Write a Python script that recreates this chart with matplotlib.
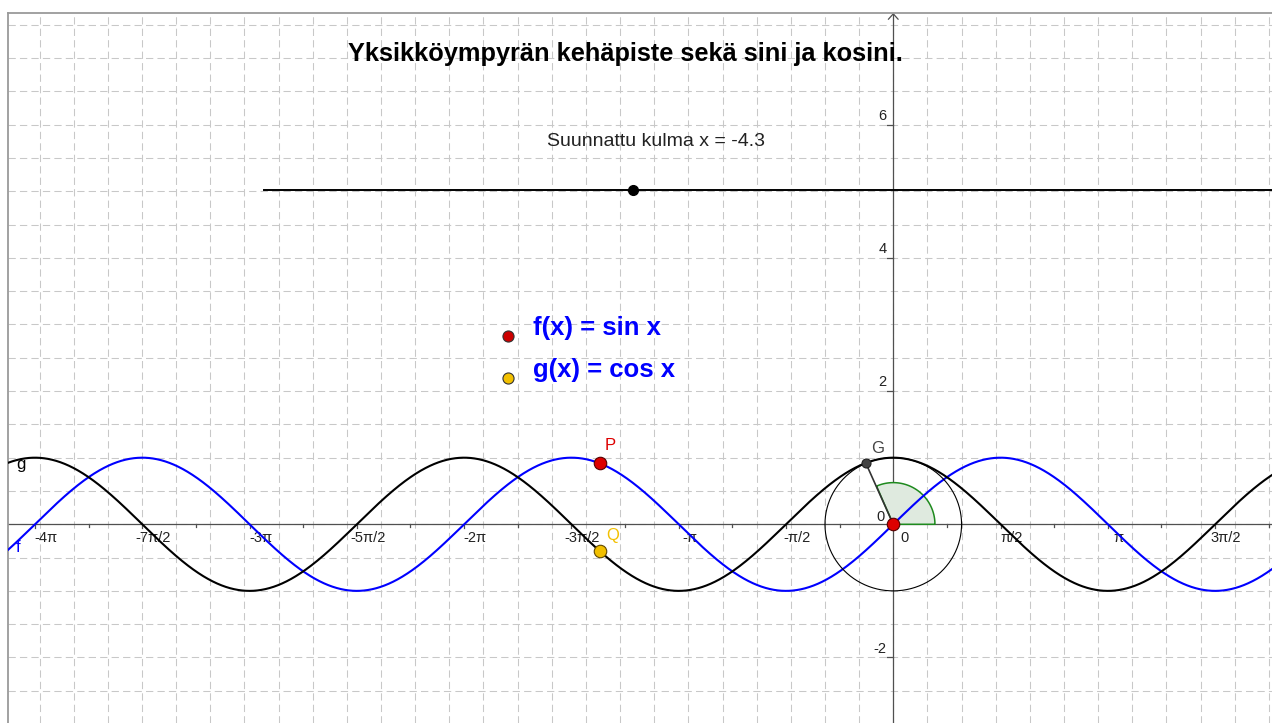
import numpy as np
import matplotlib
matplotlib.use('Agg')
import matplotlib.pyplot as plt

plt.rcParams['font.family'] = ['Liberation Sans', 'DejaVu Sans']

# ---- data ------------------------------------------------------------
title = "Yksikköympyrän kehäpiste sekä sini ja kosini."
angle = -4.3                     # suunnattu kulma x
angle_text = "Suunnattu kulma x = -4.3"
x_tick_k = [-8, -7, -6, -5, -4, -3, -2, -1, 0, 1, 2, 3]   # multiples of pi/2
x_tick_labels = ['-4π', '-7π/2', '-3π', '-5π/2', '-2π', '-3π/2', '-π', '-π/2',
                 '0', 'π/2', 'π', '3π/2']
y_tick_vals = [6, 4, 2, -2]
y_tick_labels = ['6', '4', '2', '-2']
legend_texts = ['f(x) = sin x', 'g(x) = cos x']
legend_colors = ['#cc0000', '#f2c000']
slider_start, slider_pos, slider_y = -9.21, -3.81, 5.02

xmin, xmax = -12.957, 5.545
ymin, ymax = -2.984, 7.685
#-----------------------------------------------------------------------

fig = plt.figure(figsize=(12.72, 7.23), dpi=100)
ax = fig.add_axes([8.3/1272, 0, 1-8.3/1272, 1-12.5/723])
ax.set_xlim(xmin, xmax)
ax.set_ylim(ymin, ymax)
ax.set_xticks([])
ax.set_yticks([])
for s in ['right', 'bottom']:
    ax.spines[s].set_visible(False)
for s in ['left', 'top']:
    ax.spines[s].set_color('#9a9a9a')
    ax.spines[s].set_linewidth(1.3)

# grid every 0.5
gx = np.arange(np.ceil(xmin*2)/2, xmax, 0.5)
gy = np.arange(np.ceil(ymin*2)/2, ymax, 0.5)
for v in gx:
    ax.axvline(v, color='#c8c8c8', lw=0.75, dashes=(7, 4), zorder=0)
for v in gy:
    ax.axhline(v, color='#c8c8c8', lw=0.75, dashes=(7, 4), zorder=0)

# axes
ax.axhline(0, color='#505050', lw=0.9, zorder=1)
ax.plot([0, 0], [ymin, ymax - 0.02], color='#505050', lw=0.9, zorder=1)
ax.plot([-0.07, 0, 0.07], [ymax - 0.1, ymax - 0.02, ymax - 0.1], color='#505050', lw=0.9, zorder=1)

# x ticks
for k in range(-8, 4):
    ax.plot([k*np.pi/2]*2, [0, -0.06], color='#505050', lw=0.9, zorder=1)
for k in range(-17, 8, 2):
    ax.plot([k*np.pi/4]*2, [0, -0.045], color='#505050', lw=0.9, zorder=1)
for k, lab in zip(x_tick_k, x_tick_labels):
    ax.text(k*np.pi/2 + 0.16, -0.21, lab, fontsize=10.5, color='#222222',
            ha='center', va='center', zorder=2)
# y ticks
for v, lab in zip(y_tick_vals, y_tick_labels):
    ax.plot([-0.09, 0], [v, v], color='#505050', lw=0.9, zorder=1)
    ax.text(-0.1, v + 0.13, lab, fontsize=10.5, color='#222222',
            ha='right', va='center', zorder=2)
ax.text(-0.18, 0.11, '0', fontsize=10.5, color='#222222', ha='center', va='center', zorder=2)

# curves
xs = np.linspace(xmin, xmax, 3000)
ax.plot(xs, np.sin(xs), color='#0000ff', lw=1.5, zorder=3)
ax.plot(xs, np.cos(xs), color='black', lw=1.5, zorder=3)
ax.text(xmin + 0.15, -0.35, 'f', color='#0000ff', fontsize=12, ha='center', va='center')
ax.text(xmin + 0.18, 0.9, 'g', color='black', fontsize=12, ha='center', va='center')

# unit circle
t = np.linspace(0, 2*np.pi, 400)
ax.plot(np.cos(t), np.sin(t), color='black', lw=0.8, zorder=3)

# angle sector
a = np.mod(angle, 2*np.pi)
ta = np.linspace(0, a, 80)
rx, ry = 0.61, 0.61*68.3/66.6
sx = np.concatenate([[0], rx*np.cos(ta), [0]])
sy = np.concatenate([[0], ry*np.sin(ta), [0]])
ax.fill(sx, sy, facecolor='#dfeadf', edgecolor='#1e8a1e', lw=1.1, zorder=2)

# G, P, Q
gxp, gyp = np.cos(angle), np.sin(angle)
ax.plot([0, gxp], [0, gyp], color='#333333', lw=1.2, zorder=4)
ax.plot(gxp, gyp, 'o', ms=6.5, mfc='#444444', mec='#222222', mew=0.8, zorder=6)
ax.text(gxp + 0.17, gyp + 0.22, 'G', color='#444444', fontsize=12, ha='center', va='center')
ax.plot(0, 0, 'o', ms=9, mfc='#dd0000', mec='#550000', mew=0.8, zorder=6)

ax.plot(angle, np.sin(angle), 'o', ms=9, mfc='#dd0000', mec='#550000', mew=0.8, zorder=6)
ax.text(angle + 0.16, np.sin(angle) + 0.26, 'P', color='#dd0000', fontsize=12, ha='center', va='center')
ax.plot(angle, np.cos(angle), 'o', ms=9, mfc='#f2c000', mec='#604800', mew=0.8, zorder=6)
ax.text(angle + 0.19, np.cos(angle) + 0.23, 'Q', color='#f2c000', fontsize=12, ha='center', va='center')

# slider
ax.plot([slider_start, xmax], [slider_y, slider_y], color='black', lw=1.4, zorder=4)
ax.plot(slider_pos, slider_y, 'o', ms=7, color='black', zorder=5)
ax.text(-3.48, 5.75, angle_text, fontsize=14, color='#222222', ha='center', va='center')

# legend-like texts
for i, (txt, c) in enumerate(zip(legend_texts, legend_colors)):
    yy = [2.83, 2.195][i]
    ax.plot(-5.64, yy, 'o', ms=8, mfc=c, mec='#333333', mew=0.8, zorder=5)
    ax.text(-5.27, [2.94, 2.32][i], txt, fontsize=18.5, fontweight='bold',
            color='#0000ff', ha='left', va='center')

ax.text(-3.92, 7.06, title, fontsize=18.3, fontweight='bold', color='black',
        ha='center', va='center')

fig.savefig('out.png', dpi=100)
